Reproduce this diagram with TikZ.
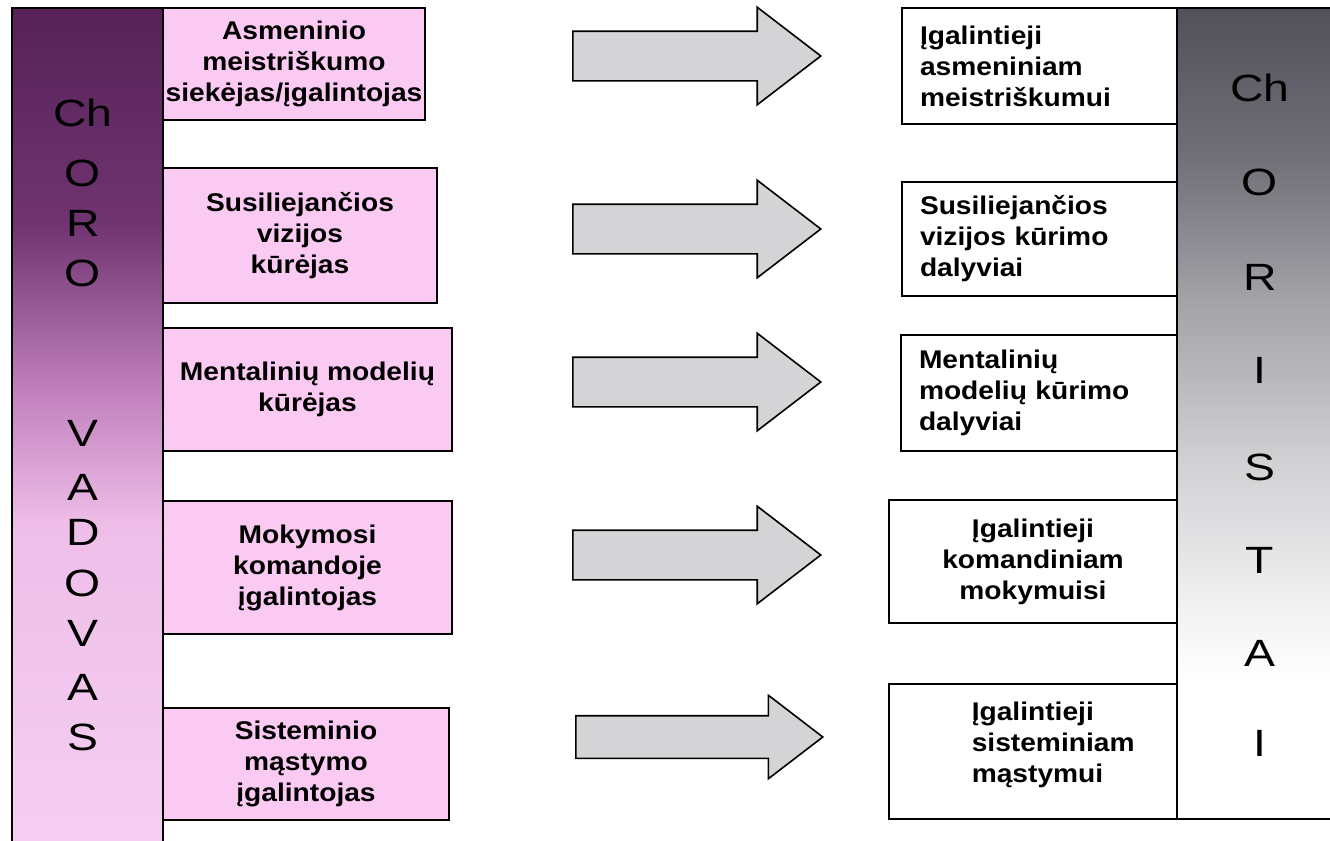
\documentclass[tikz,border=0pt]{standalone}
\usepackage{fontspec}
\setmainfont{Liberation Sans}[FakeStretch=1.1]
\newfontfamily\didraide{Liberation Sans}[FakeStretch=1.22]
\usetikzlibrary{shapes.arrows}
\definecolor{barpurple}{RGB}{86,34,88}
\definecolor{bardark}{RGB}{112,52,112}
\definecolor{barmid}{RGB}{196,132,192}
\definecolor{barlight}{RGB}{238,190,232}
\definecolor{barpink}{RGB}{246,206,242}
\definecolor{boxpink}{RGB}{250,202,242}
\definecolor{graytop}{RGB}{82,80,88}
\definecolor{graydark}{RGB}{112,110,118}
\definecolor{graymid}{RGB}{162,162,167}
\definecolor{graylight}{RGB}{206,206,209}
\definecolor{grayfade}{RGB}{240,240,241}
\definecolor{arrowgray}{RGB}{212,212,214}
\pgfdeclareverticalshading{vadovas}{100bp}{color(0bp)=(barpink); color(25bp)=(barpink);
  color(44bp)=(barlight); color(51.5bp)=(barmid); color(62bp)=(bardark); color(75bp)=(barpurple);
  color(100bp)=(barpurple)}
\pgfdeclareverticalshading{choristai}{100bp}{color(0bp)=(white); color(33.5bp)=(white);
  color(38.5bp)=(grayfade); color(47.7bp)=(graylight); color(57bp)=(graymid); color(66bp)=(graydark);
  color(75bp)=(graytop); color(100bp)=(graytop)}
\tikzset{
  dezute/.style={draw,thick,inner sep=0.5pt,font=\bfseries\fontsize{12.8}{15.5}\selectfont},
  kaire/.style={dezute,fill=boxpink,align=center},
  desine/.style={dezute,fill=white},
  raide/.style={inner sep=0pt,font=\didraide\fontsize{19}{19}\selectfont},
  rodykle/.style={single arrow,draw,thick,fill=arrowgray,inner xsep=0pt,anchor=tail,
    single arrow tip angle=75}
}
\begin{document}
\begin{tikzpicture}[x=0.5pt,y=-0.5pt]
\useasboundingbox (0,0) rectangle (1330,841);
% vadovas
\shade[shading=vadovas] (12,8) rectangle (163,841);
\draw[thick] (12,841) -- (12,8) -- (163,8) -- (163,841);
\foreach \r/\y [count=\i] in {Ch/113,O/173,R/223,O/273,V/433,A/487,D/532,O/583,V/633,A/687,S/737}
  \node[raide] (v\i) at (83,\y) {\r};
% choristai
\shade[shading=choristai] (1177,8) rectangle (1330,819);
\draw[thick] (1330,8) -- (1177,8) -- (1177,819) -- (1330,819);
\foreach \r/\y [count=\i] in {Ch/88,O/182,R/277,I/370,S/467,T/560,A/653,I/743}
  \node[raide] (c\i) at (1260,\y) {\r};
% vadovo vaidmenys
\node[kaire,minimum width=131pt,minimum height=56pt] (l1) at (294,64)
  {Asmeninio\\meistriškumo\\siekėjas/įgalintojas};
\node[kaire,minimum width=137pt,minimum height=67.5pt] (l2) at (300,235.5)
  {Susiliejančios\\vizijos\\kūrėjas};
\node[kaire,minimum width=144.5pt,minimum height=61.5pt] (l3) at (307.5,389.5)
  {Mentalinių modelių\\kūrėjas};
\node[kaire,minimum width=144.5pt,minimum height=66.5pt] (l4) at (307.5,567.5)
  {Mokymosi\\komandoje\\įgalintojas};
\node[kaire,minimum width=143pt,minimum height=56pt] (l5) at (306,764)
  {Sisteminio\\mąstymo\\įgalintojas};
% choristu vaidmenys
\node[desine,align=left,text width=119.5pt,inner xsep=9pt,minimum height=58pt] (r1) at (1039.5,66)
  {Įgalintieji\\asmeniniam\\meistriškumui};
\node[desine,align=left,text width=119.5pt,inner xsep=9pt,minimum height=57pt] (r2) at (1039.5,239)
  {Susiliejančios\\vizijos kūrimo\\dalyviai};
\node[desine,align=left,text width=120pt,inner xsep=9pt,minimum height=58pt] (r3) at (1039,393)
  {Mentalinių\\modelių kūrimo\\dalyviai};
\node[desine,align=center,minimum width=144pt,minimum height=61.5pt] (r4) at (1033,561.5)
  {Įgalintieji\\komandiniam\\mokymuisi};
\node[desine,minimum width=144pt,minimum height=67.5pt] (r5) at (1033,751.5) {};
\node[dezute,draw=none,align=left,anchor=west,inner sep=0pt] (r5t) at (971,745)
  {Įgalintieji\\sisteminiam\\mąstymui};
% rodykles
\foreach \y [count=\i] in {56,229,382,555}
  \node[rodykle,inner ysep=12pt,single arrow head extend=12pt,minimum height=124pt] (a\i) at (572,\y) {};
\node[rodykle,inner ysep=10.25pt,single arrow head extend=10.25pt,minimum height=123.5pt] (a5) at (575,737) {};
\end{tikzpicture}
\end{document}
